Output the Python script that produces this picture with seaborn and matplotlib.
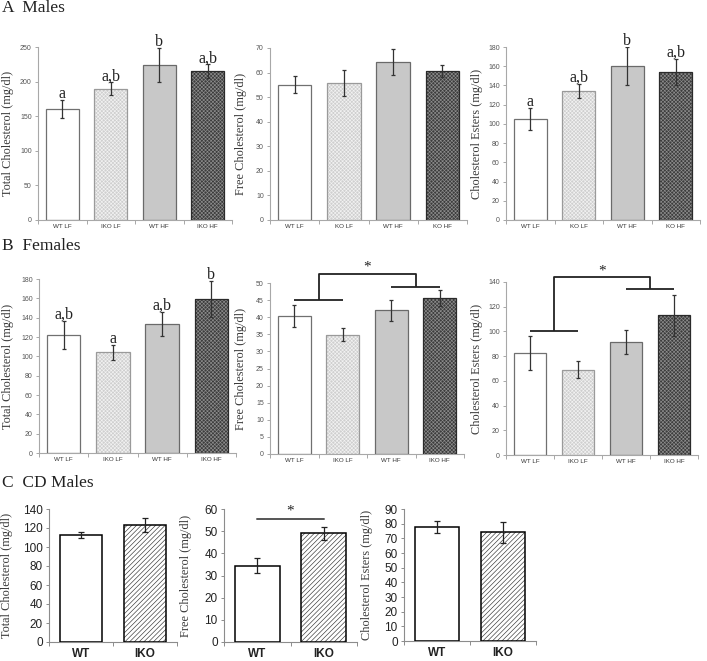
import matplotlib
matplotlib.use("Agg")
import matplotlib.pyplot as plt
import seaborn as sns
from matplotlib.patches import Rectangle

# ---- data (mean, error) ----
groups_ab = ["WT LF", "IKO LF", "WT HF", "IKO HF"]
groups_ko = ["WT LF", "KO LF", "WT HF", "KO HF"]
groups_c = ["WT", "IKO"]

a_total = [161, 190, 224, 215]
a_total_err = [13, 9, 24.5, 10]
a_free = [55, 55.7, 64.3, 60.5]
a_free_err = [3.5, 5.2, 5.3, 2.5]
a_ester = [105, 134.5, 160, 154]
a_ester_err = [11.5, 7.5, 19.5, 13.5]
a_letters = ["a", "a,b", "b", "a,b"]

b_total = [122, 104, 133.5, 159]
b_total_err = [14.5, 8, 12.5, 18.5]
b_total_letters = ["a,b", "a", "a,b", "b"]
b_free = [40.3, 34.8, 42, 45.7]
b_free_err = [3.2, 1.9, 3.1, 2.3]
b_ester = [82.5, 69, 91.5, 113]
b_ester_err = [13.5, 7, 9.5, 16.5]
# significance brackets: (left line level, right line level, top level)
b_free_bracket = (45, 48.8, 52.7)
b_ester_bracket = (100, 134, 144)

c_total = [112.5, 123.5]
c_total_err = [3, 7.5]
c_free = [34.5, 49]
c_free_err = [3.5, 3]
c_free_sig = 55.5
c_ester = [77.5, 74]
c_ester_err = [4, 7]

W, H = 707, 661
SERIF = ["Liberation Serif", "DejaVu Serif"]
SANS = ["Liberation Sans", "DejaVu Sans"]

sns.set_style("ticks")
plt.rcParams["font.family"] = SANS
plt.rcParams["hatch.linewidth"] = 0.45

# face, hatch, hatch colour, outline for the four diet groups
diet_styles = [
    ("white", None, None, "#707070"),
    ("#cfcfcf", "xxxxxxxxx", "#f2f2f2", "#9a9a9a"),
    ("#c8c8c8", None, None, "#6a6a6a"),
    ("#3c3c3c", "xxxxxxxxx", "#8c8c8c", "#2a2a2a"),
]
cd_styles = [
    ("white", None, None, "black"),
    ("white", "///////", "#333333", "black"),
]


def px_axes(fig, x0, x1, ytop, ybot):
    return fig.add_axes([x0 / W, 1 - ybot / H, (x1 - x0) / W, (ybot - ytop) / H])


def bar_panel(ax, labels, values, errs, styles, ymax, step, ylabel, cd=False):
    sns.barplot(x=labels, y=values, hue=labels, dodge=False, legend=False,
                palette=[s[0] for s in styles], width=0.67 if cd else 0.68,
                linewidth=0, ax=ax)
    for cont, (face, hatch, hcol, edge) in zip(ax.containers, styles):
        for p in cont:
            box = (p.get_x(), p.get_y())
            if hatch:
                ax.add_patch(Rectangle(box, p.get_width(), p.get_height(), facecolor="none",
                                       edgecolor=hcol, hatch=hatch, linewidth=0, zorder=3))
            ax.add_patch(Rectangle(box, p.get_width(), p.get_height(), facecolor="none",
                                   edgecolor=edge, linewidth=1.1 if cd else 0.9, zorder=4))
    ax.errorbar(range(len(values)), values, yerr=errs, fmt="none",
                ecolor="#222222" if cd else "#333333", elinewidth=0.9,
                capsize=2.2 if cd else 1.3, capthick=0.9, zorder=6)

    n = len(labels)
    ax.set_xlim(-0.5, n - 0.5)
    ax.set_ylim(0, ymax)
    ax.set_yticks(range(0, ymax + 1, step))
    ax.set_xticks(range(n))
    ax.set_xticks([i - 0.5 for i in range(n + 1)], minor=True)
    ax.set_xticklabels(labels)
    ax.set_xlabel("")
    sns.despine(ax=ax)
    spine_col = "#8c8c8c" if cd else "#a8a8a8"
    for side in ("left", "bottom"):
        ax.spines[side].set_color(spine_col)
        ax.spines[side].set_linewidth(0.8)
    ax.tick_params(axis="x", which="major", length=0, pad=4 if cd else 3)
    ax.tick_params(axis="x", which="minor", length=3, color=spine_col, width=0.7)
    ax.tick_params(axis="y", length=2.5, color=spine_col, width=0.7, pad=2)
    if cd:
        ax.tick_params(axis="y", labelsize=8.5, labelcolor="#222222")
        ax.tick_params(axis="x", labelsize=8.5, labelcolor="#222222")
        for t in ax.get_xticklabels():
            t.set_fontweight("bold")
    else:
        ax.tick_params(axis="y", labelsize=5, labelcolor="#555555")
        ax.tick_params(axis="x", labelsize=4.5, labelcolor="#333333")
    ax.set_ylabel(ylabel, family=SERIF, fontsize=8.8, color="#3a3a3a")


def add_letters(ax, values, errs, letters, ymax):
    for i, (v, e, lab) in enumerate(zip(values, errs, letters)):
        ax.text(i, v + e + 0.012 * ymax, lab, ha="center", va="baseline",
                family=SERIF, fontsize=11.5, color="#222222", zorder=7)


def add_bracket(ax, levels):
    left, right, top = levels
    kw = dict(color="#222222", lw=1.3, clip_on=False, zorder=7, solid_capstyle="butt")
    ax.plot([0, 1], [left, left], **kw)
    ax.plot([2, 3], [right, right], **kw)
    ax.plot([0.5, 0.5, 2.5, 2.5], [left, top, top, right], **kw)
    ax.text(1.5, top, "*", ha="center", va="bottom", family=SERIF,
            fontsize=11, color="#222222")


fig = plt.figure(figsize=(W / 100, H / 100), dpi=100)

# ---- A: males ----
ax = px_axes(fig, 38, 232, 47, 220)
bar_panel(ax, groups_ab, a_total, a_total_err, diet_styles, 250, 50, "Total Cholesterol (mg/dl)")
add_letters(ax, a_total, a_total_err, a_letters, 250)
ax.yaxis.set_label_coords(-0.125, 0.5)

ax = px_axes(fig, 270, 467, 48, 220)
bar_panel(ax, groups_ko, a_free, a_free_err, diet_styles, 70, 10, "Free Cholesterol (mg/dl)")
ax.yaxis.set_label_coords(-0.115, 0.5)

ax = px_axes(fig, 506, 700, 47, 220)
bar_panel(ax, groups_ko, a_ester, a_ester_err, diet_styles, 180, 20, "Cholesterol Esters (mg/dl)")
add_letters(ax, a_ester, a_ester_err, a_letters, 180)
ax.yaxis.set_label_coords(-0.12, 0.5)

# ---- B: females ----
ax = px_axes(fig, 39, 236, 279, 453)
bar_panel(ax, groups_ab, b_total, b_total_err, diet_styles, 180, 20, "Total Cholesterol (mg/dl)")
add_letters(ax, b_total, b_total_err, b_total_letters, 180)
ax.yaxis.set_label_coords(-0.125, 0.5)

ax = px_axes(fig, 270, 464, 283, 454)
bar_panel(ax, groups_ab, b_free, b_free_err, diet_styles, 50, 5, "Free Cholesterol (mg/dl)")
add_bracket(ax, b_free_bracket)
ax.yaxis.set_label_coords(-0.12, 0.5)

ax = px_axes(fig, 506, 698, 282, 455)
bar_panel(ax, groups_ab, b_ester, b_ester_err, diet_styles, 140, 20, "Cholesterol Esters (mg/dl)")
add_bracket(ax, b_ester_bracket)
ax.yaxis.set_label_coords(-0.12, 0.5)

# ---- C: chow-diet males ----
ax = px_axes(fig, 49, 177, 509, 642)
bar_panel(ax, groups_c, c_total, c_total_err, cd_styles, 140, 20, "Total Cholesterol (mg/dl)", cd=True)
ax.yaxis.set_label_coords(-0.28, 0.5)

ax = px_axes(fig, 224, 357, 509, 642)
bar_panel(ax, groups_c, c_free, c_free_err, cd_styles, 60, 10, "Free Cholesterol (mg/dl)", cd=True)
ax.plot([0, 1], [c_free_sig, c_free_sig], color="#555555", lw=1.4, clip_on=False)
ax.text(0.5, c_free_sig + 0.5, "*", ha="center", va="bottom", family=SERIF,
        fontsize=11, color="#222222")
ax.yaxis.set_label_coords(-0.24, 0.5)

ax = px_axes(fig, 404, 536, 509, 641)
bar_panel(ax, groups_c, c_ester, c_ester_err, cd_styles, 90, 10, "Cholesterol Esters (mg/dl)", cd=True)
ax.yaxis.set_label_coords(-0.235, 0.5)

# panel titles
for y, title in [(8, "A  Males"), (246, "B  Females"), (483, "C  CD Males")]:
    fig.text(2 / W, 1 - y / H, title, ha="left", va="center", family=SERIF,
             fontsize=12.5, color="#222222")

fig.savefig("out.png", dpi=100)
